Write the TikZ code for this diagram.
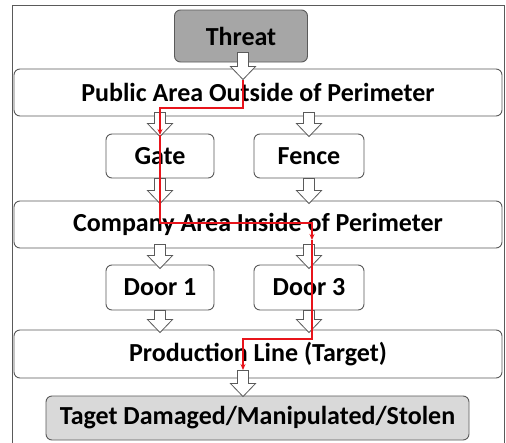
\documentclass[tikz,border=0pt]{standalone}
\usepackage{fontspec}
\setmainfont{Carlito}
\usetikzlibrary{calc,arrows.meta}
\definecolor{bordergray}{HTML}{5A5A5A}
\definecolor{darkfill}{HTML}{A6A6A6}
\definecolor{lightfill}{HTML}{D9D9D9}
\definecolor{redline}{HTML}{E8141B}
\tikzset{
  box/.style={draw=bordergray, line width=0.9pt, rounded corners=6pt, fill=white, inner sep=0pt,
    font=\fontsize{26}{30}\selectfont\bfseries},
  blk/.style={draw=bordergray, line width=0.8pt, fill=white},
  redpath/.style={draw=redline, line width=1.8pt},
  redarr/.style={redpath, -{Stealth[length=6pt,width=5pt]}}
}
\newcommand{\blockarr}[2]{%
  \draw[blk] let \p1=#1, \p2=#2 in
    (\x1-5.5pt,\y1) -- (\x1+5.5pt,\y1) -- (\x1+5.5pt,\y2+13pt) -- (\x1+12.5pt,\y2+13pt)
    -- (\x1,\y2) -- (\x1-12.5pt,\y2+13pt) -- (\x1-5.5pt,\y2+13pt) -- cycle;}
\begin{document}
\begin{tikzpicture}[x=1pt,y=-1pt]
\useasboundingbox (0,0) rectangle (506,442);
\fill[white] (0,0) rectangle (506,442);
% outer frame
\draw[bordergray, line width=1pt] (12,446) -- (12,5) -- (504,5) -- (504,446);
% nodes
\node[box, fill=darkfill, minimum width=133pt, minimum height=52pt] (threat) at (241,36) {Threat};
\node[box, minimum width=488pt, minimum height=47pt] (pub) at (258,92.5) {Public Area Outside of Perimeter};
\node[box, minimum width=108pt, minimum height=44pt] (gate) at (160,156) {Gate};
\node[box, minimum width=110pt, minimum height=44pt] (fence) at (309,156) {Fence};
\node[box, minimum width=488pt, minimum height=47pt] (comp) at (258,224.5) {Company Area Inside of Perimeter};
\node[box, minimum width=108pt, minimum height=45pt] (door1) at (160,287.5) {Door 1};
\node[box, minimum width=110pt, minimum height=45pt] (door3) at (309,287.5) {Door 3};
\node[box, minimum width=488pt, minimum height=48pt] (prod) at (258,354) {Production Line (Target)};
\node[box, fill=lightfill, minimum width=423pt, minimum height=44pt] (taget) at (257.5,418) {Taget Damaged/Manipulated/Stolen};
% block arrows
\blockarr{($(threat.south)+(2pt,10pt)$)}{($(pub.north -| threat.south)+(2pt,-11pt)$)}
\blockarr{($(gate.north |- pub.south)+(0,4pt)$)}{($(gate.north)+(0,-3pt)$)}
\blockarr{($(fence.north |- pub.south)+(0,4pt)$)}{($(fence.north)+(0,-3pt)$)}
\blockarr{(gate.south)}{($(gate.south |- comp.north)+(0,-3pt)$)}
\blockarr{(fence.south)}{($(fence.south |- comp.north)+(0,-3pt)$)}
\blockarr{($(door1.north |- comp.south)+(0,4pt)$)}{($(door1.north)+(0,-4pt)$)}
\blockarr{($(door3.north |- comp.south)+(0,4pt)$)}{($(door3.north)+(0,-4pt)$)}
\blockarr{(door1.south)}{($(door1.south |- prod.north)+(0,-3pt)$)}
\blockarr{(door3.south)}{($(door3.south |- prod.north)+(0,-3pt)$)}
\blockarr{($(prod.south)+(-15pt,8pt)$)}{($(taget.north)+(-15pt,-1pt)$)}
% red attack path
\coordinate (r0) at (243,80);
\coordinate (r1) at (243,108);
\coordinate (r2) at (160,108);
\coordinate (r3) at (160,135);
\coordinate (r4) at (160,223);
\coordinate (r5) at (312,223);
\coordinate (r6) at (312,240);
\coordinate (r7) at (312,339);
\coordinate (r8) at (243,339);
\coordinate (r9) at (243,370);
\draw[redarr] (r0) -- (r1) -- (r2) -- (r3);
\draw[redarr] (r3) -- (r4) -- (r5) -- (r6);
\draw[redarr] (r6) -- (r7) -- (r8) -- (r9);
\end{tikzpicture}
\end{document}
